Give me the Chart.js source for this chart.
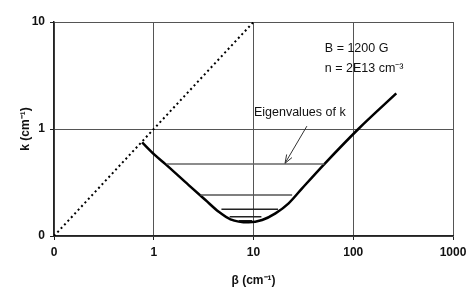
<!DOCTYPE html>
<html>
<head>
<meta charset="utf-8">
<script src="https://cdn.jsdelivr.net/npm/chart.js@4/dist/chart.umd.min.js"></script>
<style>
  body { margin: 0; background: #fff; }
  canvas { display: block; }
</style>
</head>
<body>
<canvas id="kChart" width="474" height="299"></canvas>
<script>
// dispersion curve k(beta)
const betaCurve = [0.765, 1.016, 1.31, 2.24, 3.30, 4.48, 5.87, 8.95, 12.2, 16.6, 22.5, 30.7, 51.3, 112.5, 270];
const kCurve    = [0.749, 0.576, 0.470, 0.299, 0.2168, 0.1685, 0.1432, 0.1342, 0.1411, 0.1628, 0.2019, 0.2787, 0.470, 1.0, 2.15];

// eigenvalue levels (horizontal segments)
const eigenK     = [0.470, 0.2413, 0.1775, 0.1514, 0.1389];
const eigenLeft  = [1.35, 2.94, 4.77, 5.77, 7.11];
const eigenRight = [51.3, 24.4, 17.6, 12.0, 9.68];
const eigenColors = ['#666', '#555', '#222', '#222', '#111'];

// light line k = beta
const lightBeta = [0.1, 10];
const lightK    = [0.1, 10];

const xTicks = [0.1, 1, 10, 100, 1000];
const xTickLabels = ['0', '1', '10', '100', '1000'];
const yTicks = [0.1, 1, 10];
const yTickLabels = ['0', '1', '10'];

const fontFamily = '"Liberation Sans", Arial, sans-serif';

const datasets = [];
datasets.push({
    data: lightBeta.map((b, i) => ({ x: b, y: lightK[i] })),
    showLine: true,
    borderColor: '#000',
    borderWidth: 2,
    borderDash: [2, 3],
    pointRadius: 0
});
eigenK.forEach((k, i) => {
    datasets.push({
        data: [{ x: eigenLeft[i], y: k }, { x: eigenRight[i], y: k }],
        showLine: true,
        borderColor: eigenColors[i],
        borderWidth: 1.5,
        pointRadius: 0
    });
});
datasets.push({
    data: betaCurve.map((b, i) => ({ x: b, y: kCurve[i] })),
    showLine: true,
    borderColor: '#000',
    borderWidth: 2.5,
    cubicInterpolationMode: 'monotone',
    pointRadius: 0
});

// text labels and the arrow, placed in data coordinates
const notes = {
    id: 'notes',
    afterDatasetsDraw(chart) {
        const c = chart.ctx;
        const xs = chart.scales.x, ys = chart.scales.y;
        const px = v => xs.getPixelForValue(v);
        const py = v => ys.getPixelForValue(v);
        c.save();
        c.fillStyle = '#111';
        c.font = '12.5px ' + fontFamily;
        c.textBaseline = 'middle';
        c.textAlign = 'left';
        c.fillText('B = 1200 G', px(51.9), py(5.68));
        c.fillText('n = 2E13 cm\u207B\u00B3', px(51.9), py(3.70));
        c.fillText('Eigenvalues of k', px(10.1), py(1.41));

        // arrow to the first eigenvalue
        const x1 = px(34.3), y1 = py(1.064);
        const x2 = px(20.7), y2 = py(0.478);
        c.strokeStyle = '#333';
        c.lineWidth = 1;
        c.beginPath();
        c.moveTo(x1, y1);
        c.lineTo(x2, y2);
        const ang = Math.atan2(y2 - y1, x2 - x1);
        const len = 9;
        c.moveTo(x2, y2);
        c.lineTo(x2 - len * Math.cos(ang - 0.35), y2 - len * Math.sin(ang - 0.35));
        c.moveTo(x2, y2);
        c.lineTo(x2 - len * Math.cos(ang + 0.35), y2 - len * Math.sin(ang + 0.35));
        c.stroke();
        c.restore();
    }
};

new Chart(document.getElementById('kChart'), {
    type: 'scatter',
    data: { datasets: datasets },
    options: {
        responsive: false,
        animation: false,
        layout: { padding: { top: 22, right: 21, left: 0, bottom: 0 } },
        plugins: {
            legend: { display: false },
            tooltip: { enabled: false }
        },
        scales: {
            x: {
                type: 'logarithmic',
                min: 0.1,
                max: 1000,
                afterBuildTicks: function (scale) {
                    scale.ticks = xTicks.map(v => ({ value: v }));
                },
                afterFit: function (scale) { scale.height = 63; },
                grid: { color: '#555', lineWidth: 1, tickLength: 4, tickColor: '#222' },
                border: { color: '#222', width: 1.5 },
                ticks: {
                    color: '#111',
                    padding: 5,
                    maxRotation: 0,
                    autoSkip: false,
                    font: { family: fontFamily, size: 12, weight: 'bold' },
                    callback: function (value, index) { return xTickLabels[index]; }
                },
                title: {
                    display: true,
                    text: '\u03B2 (cm\u207B\u00B9)',
                    color: '#111',
                    padding: { top: 0, bottom: 11 },
                    font: { family: fontFamily, size: 12, weight: 'bold' }
                }
            },
            y: {
                type: 'logarithmic',
                min: 0.1,
                max: 10,
                afterBuildTicks: function (scale) {
                    scale.ticks = yTicks.map(v => ({ value: v }));
                },
                afterFit: function (scale) { scale.width = 54; },
                grid: { color: '#555', lineWidth: 1, tickLength: 4, tickColor: '#222' },
                border: { color: '#222', width: 1.5 },
                ticks: {
                    color: '#111',
                    padding: 5,
                    autoSkip: false,
                    font: { family: fontFamily, size: 12, weight: 'bold' },
                    callback: function (value, index) { return yTickLabels[index]; }
                },
                title: {
                    display: true,
                    text: 'k (cm\u207B\u00B9)',
                    color: '#111',
                    padding: { top: 18, bottom: 0 },
                    font: { family: fontFamily, size: 12, weight: 'bold' }
                }
            }
        }
    },
    plugins: [notes]
});
</script>
</body>
</html>
